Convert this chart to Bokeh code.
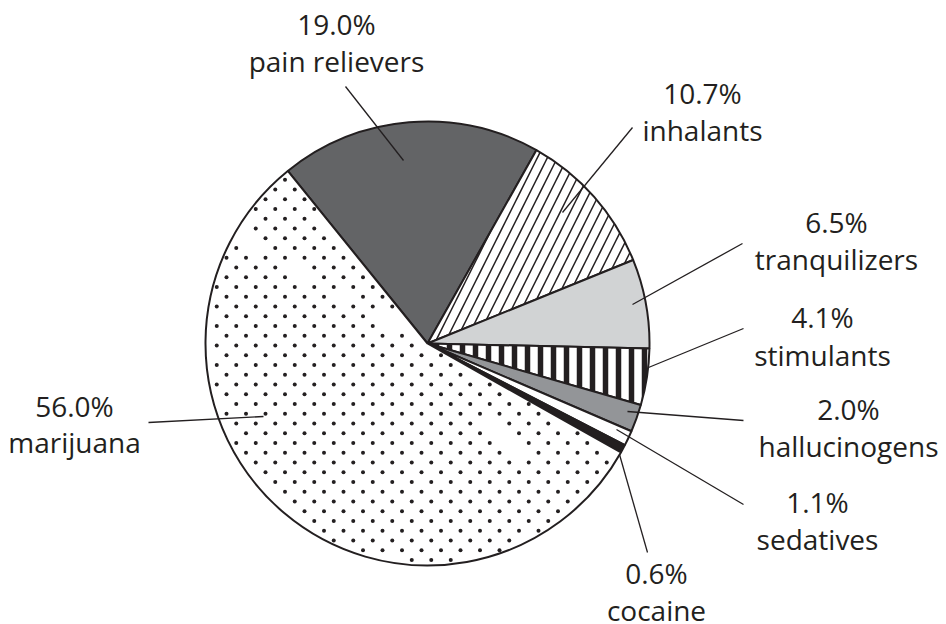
import math
from bokeh.plotting import figure
from bokeh.models import Range1d
from bokeh.core.properties import value
from bokeh.embed import file_html
from bokeh.resources import INLINE

# ---------------- data ----------------
categories = ["pain relievers", "inhalants", "tranquilizers", "stimulants",
              "hallucinogens", "sedatives", "cocaine", "marijuana"]
shares = [19.0, 10.7, 6.5, 4.1, 2.0, 1.1, 0.6, 56.0]
pct_labels = [f"{v:.1f}%" for v in shares]

# ---------------- layout / style ----------------
W, H = 946, 624
CX, CY, R = 427.0, 343.0, 222.0      # pie centre / radius (px from top-left)
START = -39.0                         # clockwise degrees from 12 o'clock
INK = "#231f20"
TEXT_SHIFT = 12                       # baseline correction (px)

fills = ["#636466", "white", "#d1d3d4", "white", "#939598", "white", INK, "white"]
hatches = [" ", "/", " ", "|", " ", " ", " ", " "]
hatch_scales = [10, 20, 10, 13, 10, 10, 10, 10]
hatch_weights = [1, 1.5, 1, 5.5, 1, 1, 1, 1]
dotted = [False, False, False, False, False, False, False, True]

# label layout: centre x, baseline of % line, baseline of name line (px)
label_x = [336, 702, 836, 822, 848, 817, 656, 74]
label_y1 = [35, 104, 233, 328, 420, 513, 584, 417]
label_y2 = [72, 141, 270, 366, 457, 550, 621, 453]
# leader lines (outer end, inner end) in px
lead_out = [(345, 86), (632, 127), (742, 243), (743, 328), (743, 420), (743, 504), (647, 552), (148, 422)]
lead_in = [(403, 160), (562, 212), (632, 304), (648, 367), (627, 411), (616, 429), (619, 454), (263, 416)]


def Y(y):
    return H - y


p = figure(width=W, height=H, output_backend="svg", toolbar_location=None,
           x_range=Range1d(0, W), y_range=Range1d(0, H),
           min_border=0, outline_line_color=None)
p.axis.visible = False
p.grid.visible = False
p.background_fill_color = "white"

total = sum(shares)
cum = START
bounds = []
for i, v in enumerate(shares):
    a0 = cum
    a1 = cum + v / total * 360.0
    cum = a1
    bounds.append((a0, a1))
    p.wedge(x=[CX], y=[Y(CY)], radius=R,
            start_angle=[math.radians(90 - a1)], end_angle=[math.radians(90 - a0)],
            direction="anticlock",
            fill_color=fills[i], line_color=INK, line_width=2,
            hatch_pattern=hatches[i], hatch_color=INK,
            hatch_scale=hatch_scales[i], hatch_weight=hatch_weights[i])

# dotted texture (staggered lattice) inside the dotted slices
ox, oy, step = 284.5, 179.3, 9.75
dx_, dy_ = [], []
for i, (a0, a1) in enumerate(bounds):
    if not dotted[i]:
        continue
    for r in range(-30, 60):
        yy = oy + r * step
        off = 0.0 if r % 2 == 0 else step
        for c in range(-30, 40):
            xx = ox + off + c * 2 * step
            ddx, ddy = xx - CX, yy - CY
            rad = math.hypot(ddx, ddy)
            if rad > R - 3 or rad < 3:
                continue
            ang = math.degrees(math.atan2(ddx, -ddy)) % 360
            lo, hi = a0 % 360, a1 % 360
            inside = (lo <= ang <= hi) if lo < hi else (ang >= lo or ang <= hi)
            if not inside:
                continue
            ok = True
            for edge in (a0, a1):
                ex, ey = math.sin(math.radians(edge)), -math.cos(math.radians(edge))
                if abs(ddx * ey - ddy * ex) < 3:
                    ok = False
            if ok:
                dx_.append(xx)
                dy_.append(Y(yy))
p.scatter(dx_, dy_, size=4, marker="circle", fill_color=INK, line_color=None)

# leader lines
p.segment(x0=[a[0] for a in lead_out], y0=[Y(a[1]) for a in lead_out],
          x1=[a[0] for a in lead_in], y1=[Y(a[1]) for a in lead_in],
          line_color=INK, line_width=1.3)

# labels
common = dict(text_align="center", text_baseline="alphabetic",
              text_font=value("Open Sans"), text_font_size="28px", text_color=INK)
p.text(x=label_x, y=[Y(v - TEXT_SHIFT) for v in label_y1], text=pct_labels, **common)
p.text(x=label_x, y=[Y(v - TEXT_SHIFT) for v in label_y2], text=categories, **common)

open("out.html", "w").write(file_html(p, INLINE))
